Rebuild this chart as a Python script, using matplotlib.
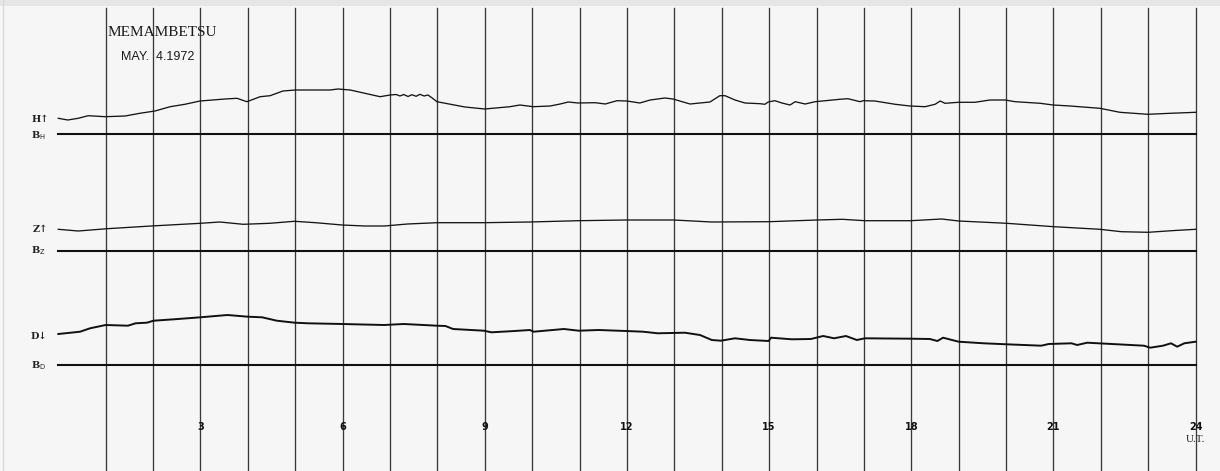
import matplotlib
matplotlib.use("Agg")
import matplotlib.pyplot as plt
import numpy as np

# ---------------- data (hours UT, deflection above baseline in chart units) -------------
h_hours = [0.00, 0.20, 0.42, 0.63, 0.99, 1.41, 1.72, 2.04, 2.36, 2.67, 2.99, 3.52, 3.77, 3.98,
           4.26, 4.47, 4.74, 5.00, 5.31, 5.73, 5.90, 6.16, 6.79, 7.00, 7.13, 7.21, 7.29, 7.38,
           7.46, 7.55, 7.63, 7.72, 7.80, 7.89, 7.99, 8.58, 9.00, 9.53, 9.74, 10.02, 10.38,
           10.59, 10.76, 10.97, 11.33, 11.54, 11.79, 12.00, 12.27, 12.49, 12.80, 12.97, 13.33,
           13.75, 13.96, 14.07, 14.28, 14.49, 14.81, 14.91, 14.98, 15.12, 15.27, 15.44, 15.55,
           15.76, 15.97, 16.49, 16.66, 16.92, 16.98, 17.23, 17.66, 17.97, 18.29, 18.50, 18.61,
           18.71, 18.99, 19.34, 19.66, 19.98, 20.19, 20.72, 20.99, 21.35, 21.98, 22.40, 22.99,
           23.46, 24.00]
h_defl = [15.2, 13.5, 15.2, 17.8, 16.8, 17.5, 20.2, 22.5, 26.8, 29.2, 32.5, 34.5, 35.2, 31.8,
          36.8, 37.8, 42.5, 43.5, 43.5, 43.5, 44.5, 43.5, 36.8, 38.5, 39.0, 37.5, 39.0, 37.0,
          38.8, 37.2, 39.2, 37.5, 38.5, 35.5, 31.8, 26.5, 24.5, 26.8, 28.5, 26.8, 27.5,
          29.5, 31.5, 30.5, 30.8, 29.5, 32.8, 32.5, 30.5, 33.5, 35.5, 34.5, 29.5,
          31.5, 37.8, 37.8, 33.5, 30.5, 29.8, 29.2, 31.5, 32.8, 30.5, 28.5, 31.8,
          29.5, 31.8, 34.2, 34.8, 31.8, 32.8, 32.5, 29.2, 27.5, 26.8, 29.2, 32.5,
          30.2, 31.2, 31.2, 33.5, 33.5, 31.8, 30.2, 28.5, 27.5, 25.2, 21.2, 19.2,
          20.2, 21.2]

z_hours = [0.00, 0.42, 1.03, 1.96, 3.00, 3.41, 3.90, 4.46, 4.98, 5.43, 5.99, 6.47, 6.88, 7.37,
           7.99, 8.98, 9.95, 10.98, 11.98, 12.98, 13.79, 15.00, 16.01, 16.54, 17.02, 17.99,
           18.64, 19.00, 20.01, 21.01, 21.98, 22.43, 23.00, 23.49, 24.00]
z_defl = [21.2, 19.5, 21.8, 24.5, 27.2, 28.5, 26.2, 27.2, 29.2, 27.8, 25.5, 24.5, 24.5, 26.5,
          27.8, 27.8, 28.5, 29.8, 30.5, 30.5, 28.5, 28.8, 30.5, 31.2, 29.8, 29.8,
          31.5, 29.5, 27.2, 23.8, 21.2, 18.8, 18.2, 19.8, 21.2]

d_hours = [0.00, 0.46, 0.67, 1.00, 1.47, 1.63, 1.87, 2.01, 2.44, 3.00, 3.57, 4.00, 4.30, 4.61,
           4.99, 5.27, 5.99, 6.87, 7.29, 7.99, 8.17, 8.33, 8.98, 9.14, 9.63, 9.95, 10.03,
           10.67, 10.98, 11.40, 11.98, 12.34, 12.65, 13.22, 13.54, 13.79, 13.98, 14.28, 14.59,
           14.99, 15.04, 15.48, 15.88, 16.14, 16.37, 16.62, 16.85, 17.02, 17.99, 18.39, 18.55,
           18.67, 19.00, 19.53, 20.01, 20.74, 20.90, 21.38, 21.50, 21.71, 22.35, 22.91, 23.04,
           23.31, 23.48, 23.61, 23.76, 24.00]
d_defl = [30.5, 32.8, 36.2, 39.5, 38.8, 41.2, 41.8, 43.8, 45.2, 47.2, 49.5, 47.8, 47.2, 43.8,
          41.8, 41.2, 40.5, 39.5, 40.5, 38.8, 38.5, 35.5, 33.8, 32.2, 33.5, 34.5, 32.8,
          35.5, 33.8, 34.5, 33.5, 32.8, 31.2, 31.8, 29.5, 24.5, 23.8, 26.2, 24.5,
          23.5, 26.8, 25.2, 25.5, 28.5, 26.2, 28.5, 24.5, 26.2, 25.8, 25.5, 23.5,
          26.8, 22.8, 21.2, 20.2, 18.8, 20.5, 21.2, 19.5, 21.8, 20.2, 18.8, 16.8,
          18.8, 21.2, 17.8, 21.2, 22.8]

hour_lines = list(range(1, 25))
hour_labels = [3, 6, 9, 12, 15, 18, 21, 24]
station = "MEMAMBETSU"
date_text = "MAY.  4.1972"

# ---------------- layout ----------------
W, H = 1220, 471
X0, PXH = 58.3, 47.39          # pixel of hour 0, pixels per hour


def hx(px):
    return (px - X0) / PXH


base_H, base_Z, base_D = 133.5, 250.5, 364.5
bg = "#f6f6f6"

fig = plt.figure(figsize=(W / 100, H / 100), dpi=100, facecolor=bg)
ax = fig.add_axes([0, 0, 1, 1])
ax.set_facecolor(bg)
ax.set_xlim(hx(0), hx(W))
ax.set_ylim(H, 0)
ax.axis("off")

# top band and faint left edge
ax.axhspan(0, 6, color="#e6e6e6", lw=0, zorder=0)
ax.plot([hx(3.5), hx(3.5)], [0, H], color="#d8d8d8", lw=1.0, zorder=0)

# hourly vertical lines
for h in hour_lines:
    ax.plot([h, h], [8, H], color="#3a3a3a", lw=0.95, zorder=1)

# baselines
for b in (base_H, base_Z, base_D):
    ax.plot([0, 24], [b, b], color="#111111", lw=1.5, zorder=2)

# traces
ax.plot(h_hours, [base_H - v for v in h_defl], color="#151515", lw=0.95, zorder=3)
ax.plot(z_hours, [base_Z - v for v in z_defl], color="#151515", lw=0.95, zorder=3)
ax.plot(d_hours, [base_D - v for v in d_defl], color="#101010", lw=1.4, zorder=3)

# left labels
lab_kw = dict(ha="center", va="center", color="#222222", fontfamily="DejaVu Serif",
              fontweight="bold", fontsize=7)
ax.text(hx(40), 119.5, "H\u2191", **lab_kw)
ax.text(hx(38.5), 135.5, r"B$_{\mathrm{H}}$", **lab_kw)
ax.text(hx(40), 229.5, "Z\u2191", **lab_kw)
ax.text(hx(38.5), 251, r"B$_{\mathrm{Z}}$", **lab_kw)
ax.text(hx(39), 336.5, "D\u2193", **lab_kw)
ax.text(hx(38.5), 365.5, r"B$_{\mathrm{D}}$", **lab_kw)

# title
ax.text(hx(108), 33, station, ha="left", va="center", fontfamily="Liberation Serif",
        fontsize=11, color="#1a1a1a")
ax.text(hx(121), 57, date_text, ha="left", va="center",
        fontfamily=["Liberation Sans Narrow", "Liberation Sans"], fontsize=9, color="#1a1a1a")

# hour labels
for h in hour_labels:
    ax.text(h, 427.5, str(h), ha="center", va="center", fontfamily="DejaVu Sans",
            fontweight="bold", fontsize=7, color="#111111")
ax.text(24, 440, "U.T.", ha="center", va="center", fontfamily="Liberation Serif",
        fontsize=8, color="#222222")

fig.savefig("out.png", dpi=100, facecolor=bg)
